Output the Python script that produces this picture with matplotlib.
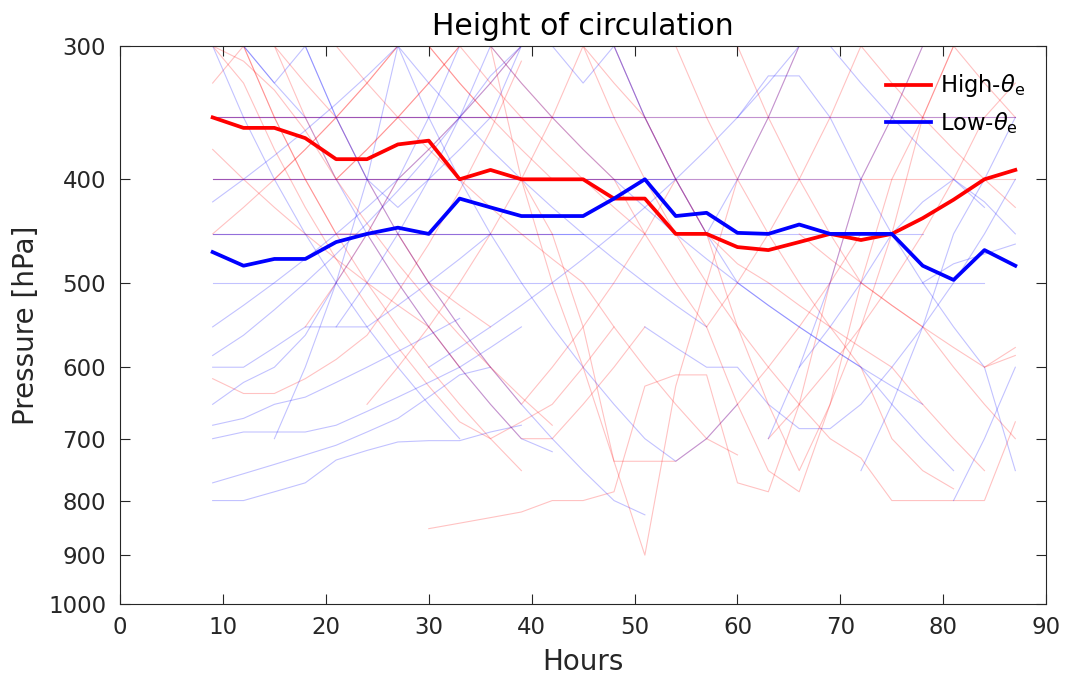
import numpy as np
import matplotlib.pyplot as plt
from matplotlib.ticker import FixedLocator, NullLocator, FixedFormatter

# hours of the composite (3-hourly)
hours = np.arange(9, 88, 3)

# composite circulation height [hPa]
high_mean = [350, 358, 358, 366, 383, 383, 371, 368, 400, 392, 400, 400, 400, 417,
             417, 450, 450, 463, 466, 458, 450, 456, 450, 435, 418, 400, 392]
low_mean = [468, 482, 475, 475, 458, 450, 444, 450, 417, 425, 433, 433, 433, 417,
            400, 433, 430, 449, 450, 441, 450, 450, 450, 482, 497, 466, 482]

# individual tracks: (start hour, pressure every 3 h)
high_tracks = [
    (9, [350] * 27),
    (9, [400] * 27),
    (9, [350] * 12),
    (9, [400] * 15),
    (9, [450] * 12),
    (9, [300, 300, 350, 400, 450, 450, 500, 550, 600, 650, 700, 700, 650, 600, 550]),
    (9, [450, 425, 400, 375, 350, 325, 300, 300, 325, 350, 375, 400]),
    (9, [300, 325, 375, 425, 475, 525, 575, 625, 675, 700, 675, 650, 600, 550]),
    (9, [615, 635, 635, 615, 590, 560, 510, 460, 410, 360, 310]),
    (9, [375, 400, 425, 450, 475, 500, 525, 550, 600]),
    (9, [325, 300, 300, 325, 350, 400, 450, 500, 525, 550]),
    (12, [300, 350, 400, 450, 500, 550, 600, 650, 700, 750]),
    (15, [400, 375, 350, 325, 300, 300, 325, 350]),
    (18, [550, 500, 450, 400, 375, 350, 325, 300]),
    (21, [300, 325, 350, 375, 400, 425, 450, 475, 500, 550, 600, 650, 700, 725]),
    (24, [650, 600, 550, 500, 450, 400, 350, 300, 300, 300]),
    (27, [450, 500, 550, 600, 650, 600, 550, 500, 450, 400]),
    (30, [850, 840, 830, 820, 800, 800, 785, 625, 610, 610, 770, 785, 650, 500, 400, 350, 300]),
    (39, [400, 450, 550, 735, 900, 625, 500, 400, 350, 300]),
    (36, [300, 400, 500, 600, 735, 735, 735, 700, 650, 600, 550, 500, 450]),
    (42, [300, 300, 350, 400, 450, 500, 550, 600, 650, 700, 730, 800, 800, 800, 800, 675, 530, 400]),
    (54, [300, 350, 400, 450, 500, 550, 600, 700, 750, 780]),
    (57, [550, 650, 750, 785, 650, 500, 400, 350, 300]),
    (60, [300, 350, 400, 450, 500, 525, 550, 600, 650, 700]),
    (63, [700, 650, 600, 550, 500, 450, 400, 350, 325, 300]),
    (66, [450, 475, 500, 525, 550, 575, 600, 575, 550]),
    (72, [300, 325, 350, 375, 400, 425, 450, 475, 500, 525]),
    (78, [300, 300, 325, 350]),
    (84, [600, 585]),
    (9, [300, 310, 330, 360, 400, 440, 480, 520, 560, 600, 640, 680]),
    (45, [300, 325, 350, 400, 450, 480, 500, 525, 550, 575, 600, 650, 700, 750]),
    (15, [300, 350, 400, 375, 350, 325, 300]),
    (33, [300, 300, 325, 350, 375, 400, 450, 500, 550, 500, 450, 400, 350, 300]),
    (48, [300, 350, 400, 450, 550, 650, 750, 650, 550, 450, 350, 300]),
    (21, [400, 375, 350, 325, 300, 325, 350, 375, 400, 425, 450]),
]

low_tracks = [
    (9, [350] * 27),
    (9, [400] * 22),
    (9, [350] * 14),
    (9, [400] * 16),
    (9, [450] * 13),
    (9, [500] * 26),
    (9, [450] * 24),
    (9, [800, 800, 785, 770, 733, 718, 705, 703, 703, 690, 680]),
    (9, [770, 755, 740, 725, 710, 690, 670, 640, 610, 600]),
    (9, [700, 690, 690, 690, 680, 660, 640, 620, 600, 575, 550]),
    (9, [680, 670, 650, 640, 620, 600, 580, 560, 540]),
    (9, [650, 620, 600, 560, 500, 450, 400, 350, 300]),
    (9, [600, 600, 575, 550, 550, 550, 525, 500, 475, 450]),
    (9, [550, 525, 500, 475, 450, 425, 400, 375, 350, 325, 300]),
    (9, [300, 350, 400, 450, 500, 550, 600, 650, 700]),
    (12, [300, 325, 350, 400, 450, 500, 550, 600, 650, 700, 720]),
    (15, [700, 600, 500, 400, 300]),
    (18, [300, 350, 400, 450, 500, 550, 600, 650, 700, 750, 800, 825]),
    (21, [550, 500, 450, 400, 350, 300]),
    (24, [300, 300, 325, 350, 375, 400, 425, 450, 475, 500, 525, 550]),
    (30, [600, 575, 550, 525, 500, 475, 450, 425, 400, 375, 350, 325, 300, 300, 325, 350, 375, 400, 425]),
    (36, [300, 325, 350, 375, 400, 425, 450, 475, 500, 525, 550, 575, 600, 625, 650]),
    (45, [300, 300, 350, 400, 450, 500, 525, 550, 575, 600, 650, 700, 750]),
    (51, [550, 575, 600, 600, 650, 685, 685, 650, 600, 550, 500, 450, 400]),
    (60, [350, 320, 320, 350, 400, 450, 500, 550, 600, 750]),
    (63, [700, 600, 500, 400, 350, 300]),
    (66, [600, 550, 500, 450, 420, 400, 420, 450]),
    (72, [750, 650, 550, 450, 400, 350]),
    (78, [500, 480, 470, 460]),
    (81, [800, 700, 600]),
    (9, [585, 560, 530, 500, 470, 440, 410, 380, 350, 320, 300]),
    (27, [300, 350, 400, 450, 500, 550, 600, 650, 700, 735, 700, 650]),
    (12, [300, 325, 300, 350, 400, 425, 400, 375, 350, 300]),
    (39, [300, 300, 325, 300, 350, 400, 450, 400, 350, 300]),
    (9, [420, 400, 380, 360, 340, 320, 300]),
]

fig = plt.figure(figsize=(10.67, 6.8), dpi=100)
ax = fig.add_axes([0.1125, 0.1118, 0.868, 0.8206])

# alternate red and blue so shared levels blend to purple
n = max(len(high_tracks), len(low_tracks))
for i in range(n):
    for tracks, col in [(high_tracks, 'red'), (low_tracks, 'blue')]:
        if i >= len(tracks):
            continue
        start, p = tracks[i]
        t = start + 3 * np.arange(len(p))
        keep = t <= 87
        ax.plot(t[keep], np.array(p)[keep], color=col, lw=0.8, alpha=0.24)

ax.plot(hours, high_mean, color='red', lw=2.7, label=r'High-$\theta_{\rm e}$')
ax.plot(hours, low_mean, color='blue', lw=2.7, label=r'Low-$\theta_{\rm e}$')

ax.set_yscale('log')
ax.set_ylim(1000, 300)
ax.set_xlim(0, 90)
yt = [300, 400, 500, 600, 700, 800, 900, 1000]
ax.yaxis.set_major_locator(FixedLocator(yt))
ax.yaxis.set_major_formatter(FixedFormatter([str(v) for v in yt]))
ax.yaxis.set_minor_locator(NullLocator())
ax.set_xticks(range(0, 91, 10))

ax.tick_params(direction='in', top=True, right=True, length=7, width=0.8,
               labelsize=16.5, colors='#262626')
ax.tick_params(axis='x', pad=9)
ax.tick_params(axis='y', pad=10)
for s in ax.spines.values():
    s.set_color('#262626')
    s.set_linewidth(0.8)

ax.set_xlabel('Hours', fontsize=20, color='#262626', labelpad=6)
ax.set_ylabel('Pressure [hPa]', fontsize=20, color='#262626', labelpad=6)
ax.set_title('Height of circulation', fontsize=21.5, pad=8)

ax.legend(loc='upper right', frameon=False, fontsize=16.3, handlelength=2.0,
          handletextpad=0.4, labelspacing=0.45,
          bbox_to_anchor=(0.997, 0.985), borderaxespad=0.4)

fig.savefig('out.png', dpi=100)
